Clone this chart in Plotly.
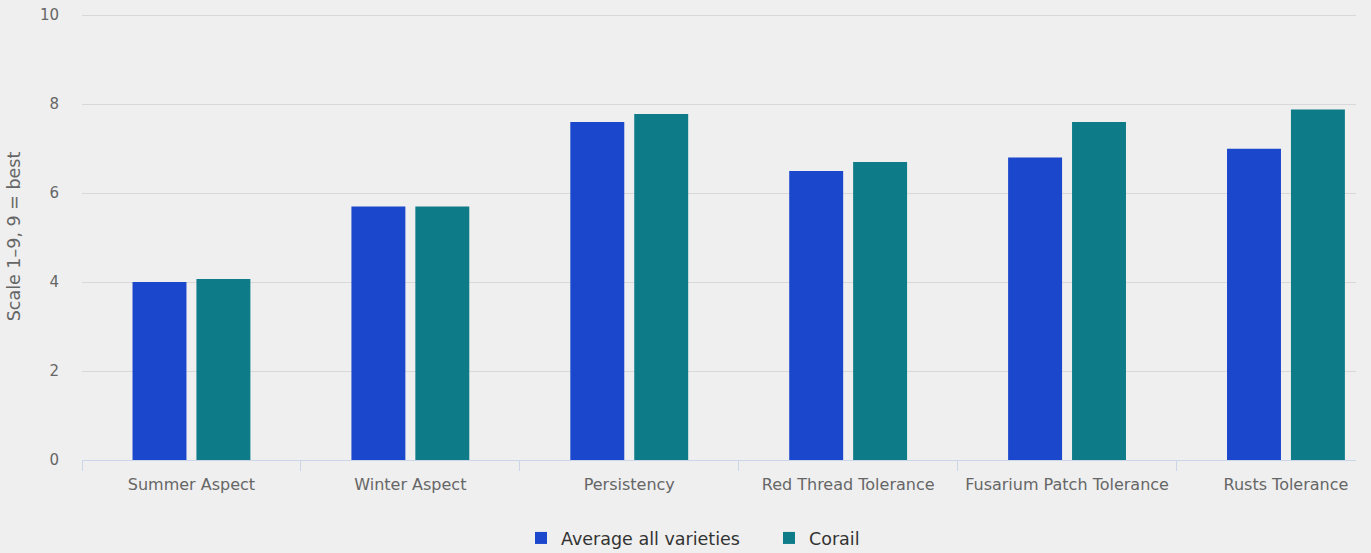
import plotly.graph_objects as go

categories = ["Summer Aspect", "Winter Aspect", "Persistency", "Red Thread Tolerance",
              "Fusarium Patch Tolerance", "Rusts Tolerance"]
average_all = [4.0, 5.7, 7.6, 6.5, 6.8, 7.0]
corail = [4.07, 5.7, 7.78, 6.7, 7.6, 7.88]
y_ticks = [0, 2, 4, 6, 8, 10]

FONT = "DejaVu Sans"

fig = go.Figure()
fig.add_trace(go.Bar(name="Average all varieties", x=categories, y=average_all,
                     marker=dict(color="#1a47cc", line=dict(width=0))))
fig.add_trace(go.Bar(name="Corail", x=categories, y=corail,
                     marker=dict(color="#0d7c88", line=dict(width=0))))

fig.update_layout(
    width=1371, height=553,
    paper_bgcolor="#efefef", plot_bgcolor="#efefef",
    margin=dict(l=82, r=15, t=13, b=93, autoexpand=False),
    barmode="group", bargap=0.416, bargroupgap=0.156,
    font=dict(family=FONT, color="#666666"),
    showlegend=True,
    legend=dict(orientation="h", xref="container", x=0.380, xanchor="left",
                yref="container", y=0.027, yanchor="middle", entrywidth=203,
                font=dict(size=17.5, color="#333333"), bgcolor="rgba(0,0,0,0)",
                itemwidth=30, traceorder="normal"),
)
fig.update_xaxes(
    range=[-0.5, 5.32], showgrid=False, showline=True, linecolor="#ccd6eb", linewidth=1,
    ticks="outside", tickson="boundaries", ticklen=10, tickcolor="#ccd6eb",
    ticklabelstandoff=10,
    tickfont=dict(size=16, color="#666666", family=FONT), zeroline=False, automargin=False,
)
fig.update_yaxes(
    range=[0, 10.05], tickvals=y_ticks, showgrid=True, gridcolor="#d8d8d8", gridwidth=1,
    zeroline=False, showline=False, ticks="", ticklabelstandoff=22, automargin=False,
    tickfont=dict(size=15, color="#666666", family=FONT),
    title=dict(text="Scale 1–9, 9 = best", font=dict(size=17.5, color="#666666", family=FONT),
               standoff=14),
)

fig.write_html("out.html", config={"displayModeBar": False},
               post_script="document.body.style.margin='0';")
